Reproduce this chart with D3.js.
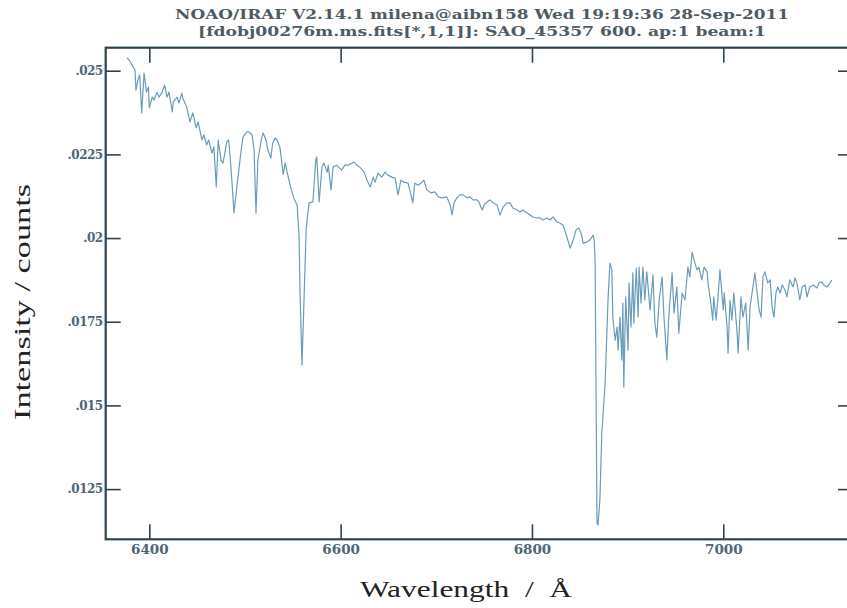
<!DOCTYPE html>
<html>
<head>
<meta charset="utf-8">
<title>spectrum</title>
<script src="https://d3js.org/d3.v7.min.js"></script>
<style>
  body { margin: 0; background: #fff; }
  svg { display: block; overflow: hidden; }
  .serif { font-family: "Liberation Serif", "Times New Roman", "DejaVu Serif", serif; }
  .bserif { font-family: "DejaVu Serif", "Liberation Serif", serif; font-weight: bold; }
</style>
</head>
<body>
<script>
// title lines printed by IRAF
var titleLines = [
  "NOAO/IRAF V2.14.1 milena@aibn158 Wed 19:19:36 28-Sep-2011",
  "[fdobj00276m.ms.fits[*,1,1]]: SAO_45357 600. ap:1 beam:1"
];

// axis ticks
var xTicks = [6400, 6600, 6800, 7000];
var yTicks = [0.0125, 0.015, 0.0175, 0.02, 0.0225, 0.025];
var yTickLabels = [".0125", ".015", ".0175", ".02", ".0225", ".025"];

// spectrum (wavelength in A, intensity in counts)
var wavelength = [
  6376.7, 6379, 6385, 6386, 6388, 6390, 6392, 6394.5, 6397, 6399, 6400, 6403, 6405, 6408, 6410,
  6413, 6416, 6418.5, 6420.5, 6424, 6425, 6429, 6431, 6434, 6435, 6439, 6442.5, 6445.5, 6449, 6451,
  6455, 6457, 6460, 6462, 6465.5, 6467.5, 6470, 6472, 6475, 6477, 6481, 6483, 6484.5, 6486.5, 6488.5,
  6492, 6496, 6498, 6502, 6504, 6507.5, 6509.5, 6511.5, 6513.5, 6517, 6519, 6522, 6524, 6527, 6529,
  6531.5, 6533.5, 6536.5, 6540, 6542, 6544, 6546, 6549, 6551, 6554.5, 6556.5, 6557.5, 6559.6, 6561.7, 6564,
  6567, 6571, 6574, 6575, 6577.5, 6580.5, 6582.5, 6586, 6587, 6590, 6592, 6596, 6599, 6601, 6604.5,
  6607.5, 6612, 6614, 6617, 6621, 6624.5, 6627.5, 6631, 6634, 6636, 6639, 6643, 6646.5, 6649.5, 6653.5,
  6657, 6660, 6663, 6666, 6670.5, 6675.5, 6677.5, 6681, 6685, 6687, 6690, 6694.5, 6698.5, 6702, 6706,
  6711, 6714.5, 6716.5, 6718.5, 6721.5, 6725, 6728, 6732, 6735, 6738.5, 6742.5, 6744.5, 6748, 6750, 6753,
  6756, 6759.5, 6763.5, 6766.5, 6770, 6774, 6777, 6780, 6784.5, 6787.5, 6790.5, 6795, 6798, 6801, 6805,
  6808.5, 6811.5, 6815.5, 6819, 6822, 6826, 6829, 6832.5, 6836.5, 6840, 6843, 6846, 6849, 6852, 6853.5,
  6857.5, 6860.5, 6864, 6865, 6866, 6868, 6869, 6871, 6873, 6876.5, 6879.5, 6881.5, 6883.5, 6884.5, 6887,
  6889, 6890, 6892, 6894, 6895, 6896, 6898, 6900.5, 6901.5, 6903.5, 6905.5, 6906.5, 6909, 6911, 6912,
  6914, 6916, 6918, 6920, 6923.5, 6926.5, 6928.5, 6930.5, 6933, 6936, 6938, 6941, 6943, 6946.5, 6948.5,
  6951.5, 6953.5, 6957, 6960, 6963, 6965, 6967.5, 6969.5, 6972.5, 6974.5, 6977.5, 6980, 6983, 6984, 6987,
  6989, 6990, 6992.5, 6994.5, 6996.5, 7000, 7001, 7004, 7005, 7007, 7009, 7011, 7014.5, 7015.5, 7018.5,
  7020.5, 7023.5, 7026, 7028, 7031, 7033, 7035, 7037.5, 7039.5, 7041.5, 7043.5, 7046.5, 7049, 7051, 7053,
  7055, 7057, 7059.5, 7061.5, 7064.5, 7066.5, 7069.5, 7073, 7075, 7077, 7080, 7082.5, 7085.5, 7087.5, 7090.5,
  7094, 7098, 7100, 7103, 7105, 7108.5, 7111.5, 7113.5
];
var intensity = [
  0.02538, 0.02532, 0.02502, 0.02442, 0.02472, 0.02487, 0.02374, 0.02493, 0.02436, 0.02451, 0.02389, 0.02421, 0.02412, 0.02436, 0.02421,
  0.02433, 0.02457, 0.02421, 0.02436, 0.02377, 0.02406, 0.02421, 0.02403, 0.02433, 0.02418, 0.02392, 0.02347, 0.02374, 0.02329, 0.02347,
  0.02293, 0.02308, 0.02278, 0.02293, 0.02254, 0.02272, 0.02153, 0.02293, 0.02233, 0.02224, 0.02287, 0.02293, 0.02242, 0.02164, 0.02075,
  0.02164, 0.02263, 0.02302, 0.02317, 0.02317, 0.02308, 0.02263, 0.02075, 0.02233, 0.02293, 0.02314, 0.02293, 0.02263, 0.02239, 0.02284,
  0.02299, 0.02293, 0.02272, 0.02190, 0.02224, 0.02197, 0.02173, 0.02138, 0.02120, 0.02099, 0.02009, 0.01845, 0.01621, 0.01815, 0.02030,
  0.02105, 0.02108, 0.02233, 0.02242, 0.02108, 0.02212, 0.02224, 0.02197, 0.02218, 0.02144, 0.02212, 0.02218, 0.02209, 0.02203, 0.02218,
  0.02218, 0.02224, 0.02227, 0.02218, 0.02209, 0.02197, 0.02173, 0.02153, 0.02182, 0.02167, 0.02194, 0.02182, 0.02197, 0.02188, 0.02182,
  0.02179, 0.02129, 0.02173, 0.02167, 0.02164, 0.02105, 0.02164, 0.02158, 0.02167, 0.02173, 0.02144, 0.02135, 0.02138, 0.02123, 0.02120,
  0.02123, 0.02099, 0.02069, 0.02105, 0.02120, 0.02129, 0.02129, 0.02120, 0.02123, 0.02114, 0.02114, 0.02108, 0.02084, 0.02099, 0.02108,
  0.02114, 0.02105, 0.02099, 0.02069, 0.02093, 0.02105, 0.02105, 0.02090, 0.02084, 0.02078, 0.02084, 0.02075, 0.02069, 0.02063, 0.02060,
  0.02060, 0.02054, 0.02060, 0.02054, 0.02063, 0.02048, 0.02045, 0.02039, 0.02003, 0.01970, 0.01994, 0.02024, 0.02030, 0.02009, 0.01985,
  0.01988, 0.01994, 0.02009, 0.01994, 0.01934, 0.01149, 0.01143, 0.01217, 0.01417, 0.01567, 0.01815, 0.01925, 0.01905, 0.01764, 0.01695,
  0.01734, 0.01665, 0.01764, 0.01636, 0.01806, 0.01555, 0.01824, 0.01665, 0.01866, 0.01734, 0.01896, 0.01746, 0.01910, 0.01764, 0.01913,
  0.01806, 0.01913, 0.01815, 0.01899, 0.01785, 0.01890, 0.01746, 0.01704, 0.01815, 0.01884, 0.01764, 0.01636, 0.01764, 0.01896, 0.01776,
  0.01854, 0.01716, 0.01836, 0.01815, 0.01913, 0.01884, 0.01958, 0.01934, 0.01905, 0.01913, 0.01875, 0.01913, 0.01899, 0.01866, 0.01806,
  0.01755, 0.01824, 0.01755, 0.01824, 0.01905, 0.01785, 0.01836, 0.01734, 0.01656, 0.01815, 0.01755, 0.01836, 0.01716, 0.01656, 0.01824,
  0.01764, 0.01806, 0.01665, 0.01794, 0.01854, 0.01896, 0.01845, 0.01785, 0.01764, 0.01884, 0.01899, 0.01866, 0.01875, 0.01794, 0.01764,
  0.01836, 0.01854, 0.01836, 0.01860, 0.01845, 0.01824, 0.01875, 0.01854, 0.01881, 0.01866, 0.01815, 0.01854, 0.01860, 0.01824, 0.01854,
  0.01860, 0.01851, 0.01866, 0.01869, 0.01860, 0.01854, 0.01866, 0.01875
];

var W = 847, H = 608;
var frame = {left: 105.7, top: 47.7, right: 853, bottom: 539.3};

var x = d3.scaleLinear().domain([6354.4, 7135.6]).range([frame.left, frame.right]);
var y = d3.scaleLinear().domain([0.011, 0.025687]).range([frame.bottom, frame.top]);

var svg = d3.select("body").append("svg")
  .attr("width", W)
  .attr("height", H);

var frameColor = "#2d4450";
var labelColor = "#4d6675";

//title
svg.append("g")
  .selectAll("text")
  .data(titleLines)
  .join("text")
  .attr("class", "bserif")
  .attr("x", 482)
  .attr("y", function(d, i){ return 19 + i * 17; })
  .attr("text-anchor", "middle")
  .attr("font-size", 13)
  .attr("fill", "#4f5b62")
  .attr("textLength", function(d, i){ return i == 0 ? 614 : 568; })
  .attr("lengthAdjust", "spacingAndGlyphs")
  .text(function(d){ return d; });

//axes: ticks point into the box
var gx = svg.append("g")
  .attr("transform", "translate(0," + frame.bottom + ")")
  .call(d3.axisBottom(x).tickValues(xTicks).tickSizeInner(-15).tickSizeOuter(0).tickPadding(5).tickFormat(d3.format("d")));

svg.append("g")
  .attr("transform", "translate(0," + frame.top + ")")
  .call(d3.axisTop(x).tickValues(xTicks).tickSizeInner(-15).tickSizeOuter(0).tickFormat(""));

var gy = svg.append("g")
  .attr("transform", "translate(" + frame.left + ",0)")
  .call(d3.axisLeft(y).tickValues(yTicks).tickSizeInner(-15).tickSizeOuter(0).tickPadding(3)
    .tickFormat(function(d, i){ return yTickLabels[i]; }));

svg.append("g")
  .attr("transform", "translate(" + frame.right + ",0)")
  .call(d3.axisRight(y).tickValues(yTicks).tickSizeInner(-15).tickSizeOuter(0).tickFormat(""));

svg.selectAll(".domain").remove();
svg.selectAll(".tick line").attr("stroke", frameColor).attr("stroke-width", 1.6);

// d3 puts font-family on the axis group; drop it so the css class wins
svg.selectAll("g").attr("font-family", null);

gx.selectAll("text")
  .attr("class", "bserif")
  .attr("font-size", 13.5)
  .attr("fill", labelColor);

gy.selectAll("text")
  .attr("class", "bserif")
  .attr("font-size", 12)
  .attr("letter-spacing", -0.5)
  .attr("fill", labelColor);

//spectrum
var pts = d3.zip(wavelength, intensity);
var line = d3.line()
  .x(function(d){ return x(d[0]); })
  .y(function(d){ return y(d[1]); });

svg.append("path")
  .datum(pts)
  .attr("d", line)
  .attr("fill", "none")
  .attr("stroke", "#6b9cb9")
  .attr("stroke-width", 1.2)
  .attr("stroke-linejoin", "round");

//box
svg.append("rect")
  .attr("x", frame.left)
  .attr("y", frame.top)
  .attr("width", frame.right - frame.left)
  .attr("height", frame.bottom - frame.top)
  .attr("fill", "none")
  .attr("stroke", frameColor)
  .attr("stroke-width", 2.2);

//axis titles
svg.append("text")
  .attr("class", "serif")
  .attr("x", 466)
  .attr("y", 597)
  .attr("text-anchor", "middle")
  .attr("font-size", 23)
  .attr("fill", "#222")
  .attr("textLength", 212)
  .attr("lengthAdjust", "spacingAndGlyphs")
  .attr("xml:space", "preserve")
  .text("Wavelength  /  Å");

svg.append("text")
  .attr("class", "serif")
  .attr("transform", "translate(30,302) rotate(-90)")
  .attr("text-anchor", "middle")
  .attr("font-size", 23)
  .attr("fill", "#222")
  .attr("textLength", 236)
  .attr("lengthAdjust", "spacingAndGlyphs")
  .text("Intensity / counts");
</script>
</body>
</html>
